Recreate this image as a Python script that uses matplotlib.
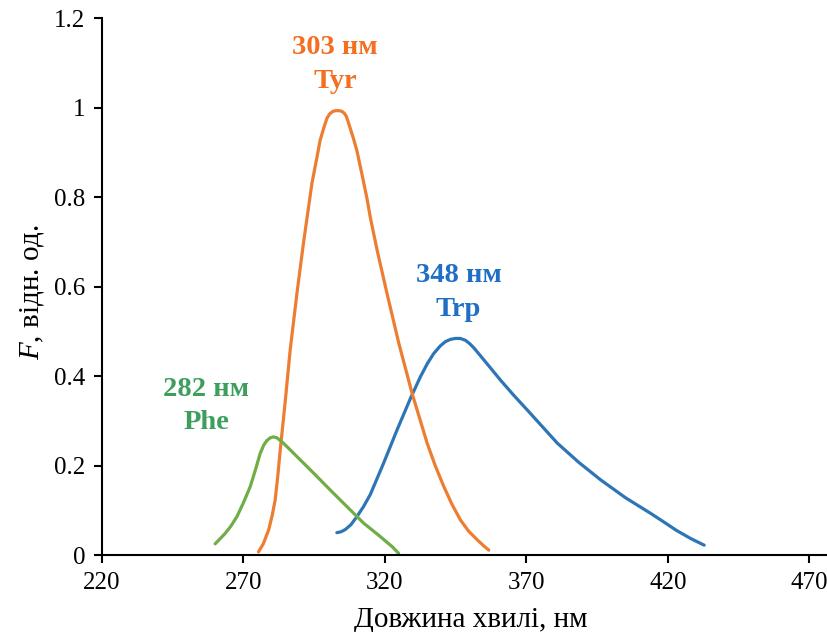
import matplotlib
matplotlib.use("Agg")
import matplotlib.pyplot as plt
from matplotlib.ticker import FuncFormatter

plt.rcParams['font.family'] = ['Liberation Serif', 'DejaVu Serif']
plt.rcParams['mathtext.fontset'] = 'custom'
plt.rcParams['mathtext.it'] = 'Liberation Serif:italic'
plt.rcParams['mathtext.rm'] = 'Liberation Serif'

# Tyr (orange)
tyr_x = [275.3, 277.0, 278.9, 280.2, 281.2, 282.1, 283.0, 284.8, 286.5, 288.9, 291.2, 294.2,
         296.0, 297.1, 298.4, 299.5, 300.5, 301.5, 302.5, 303.6, 304.6, 305.5, 306.3, 307.0,
         307.8, 308.9, 310.1, 311.9, 313.7, 314.8, 317.2, 320.7, 324.9, 329.6, 334.9, 337.8,
         340.8, 343.7, 346.7, 349.6, 352.6, 354.8, 356.7]
tyr_y = [0.007, 0.025, 0.056, 0.090, 0.123, 0.175, 0.235, 0.346, 0.458, 0.585, 0.697, 0.831,
         0.890, 0.927, 0.955, 0.976, 0.986, 0.991, 0.993, 0.993, 0.992, 0.988, 0.981, 0.968,
         0.952, 0.930, 0.903, 0.850, 0.795, 0.755, 0.682, 0.585, 0.473, 0.361, 0.250, 0.199,
         0.153, 0.113, 0.078, 0.053, 0.034, 0.021, 0.011]

# Phe (green)
phe_x = [260.0, 263.5, 265.6, 267.7, 270.0, 272.4, 274.3, 275.9, 277.2, 278.3, 279.5, 280.6,
         281.8, 283.6, 286.2, 288.9, 294.8, 300.7, 306.6, 312.5, 318.4, 320.6, 322.5, 324.8]
phe_y = [0.025, 0.048, 0.065, 0.086, 0.117, 0.153, 0.192, 0.227, 0.246, 0.256, 0.262, 0.264,
         0.262, 0.253, 0.237, 0.220, 0.183, 0.145, 0.108, 0.071, 0.041, 0.029, 0.019, 0.004]

# Trp (blue)
trp_x = [303.0, 304.5, 306.0, 308.0, 310.1, 312.4, 314.8, 319.5, 324.3, 329.0, 332.5, 335.0,
         337.2, 339.5, 341.4, 343.2, 344.9, 346.6, 348.4, 350.0, 351.4, 356.0, 360.8, 365.5,
         370.3, 375.6, 380.9, 388.5, 396.2, 405.0, 413.9, 418.5, 423.0, 428.0, 432.8]
trp_y = [0.050, 0.052, 0.057, 0.068, 0.086, 0.108, 0.135, 0.205, 0.280, 0.350, 0.398, 0.428,
         0.450, 0.467, 0.477, 0.482, 0.484, 0.484, 0.480, 0.472, 0.463, 0.428, 0.391, 0.357,
         0.324, 0.287, 0.250, 0.207, 0.168, 0.128, 0.093, 0.074, 0.055, 0.037, 0.022]

x_ticks = [220, 270, 320, 370, 420, 470]
y_ticks = [0, 0.2, 0.4, 0.6, 0.8, 1.0, 1.2]

fig = plt.figure(figsize=(8.27, 6.32), dpi=100)
ax = fig.add_axes([0.1233, 0.1218, 0.8767, 0.8497])

lw = 2.3
ax.plot(trp_x, trp_y, color='#2E75B6', lw=lw, solid_capstyle='round', solid_joinstyle='round')
ax.plot(tyr_x, tyr_y, color='#ED7D31', lw=lw, solid_capstyle='round', solid_joinstyle='round')
ax.plot(phe_x, phe_y, color='#70AD47', lw=lw, solid_capstyle='round', solid_joinstyle='round')

ax.set_xlim(220, 476.2)
ax.set_ylim(0, 1.2)
ax.set_xticks(x_ticks)
ax.set_yticks(y_ticks)
ax.yaxis.set_major_formatter(FuncFormatter(lambda v, p: f"{v:g}"))
ax.spines['top'].set_visible(False)
ax.spines['right'].set_visible(False)
for s in ['left', 'bottom']:
    ax.spines[s].set_linewidth(1.5)
ax.tick_params(axis='both', direction='out', length=6, width=1.5, labelsize=18, pad=6)

ax.set_xlabel('Довжина хвилі, нм', fontsize=21)
ax.set_ylabel('$\\it{F}$, відн. од.', fontsize=21)
ax.xaxis.set_label_coords(0.508, -0.097)
ax.yaxis.set_label_coords(-0.077, 0.49)

tfs = 20.5
ls = 1.45
ax.text(302.4, 1.096, '303 нм\nTyr', color='#F36F21', fontsize=tfs, fontweight='bold',
        ha='center', va='center', linespacing=ls)
ax.text(346, 0.587, '348 нм\nTrp', color='#1F6FC4', fontsize=tfs, fontweight='bold',
        ha='center', va='center', linespacing=ls)
ax.text(256.8, 0.333, '282 нм\nPhe', color='#3E9E5E', fontsize=tfs, fontweight='bold',
        ha='center', va='center', linespacing=ls)

fig.savefig('out.png', dpi=100)
